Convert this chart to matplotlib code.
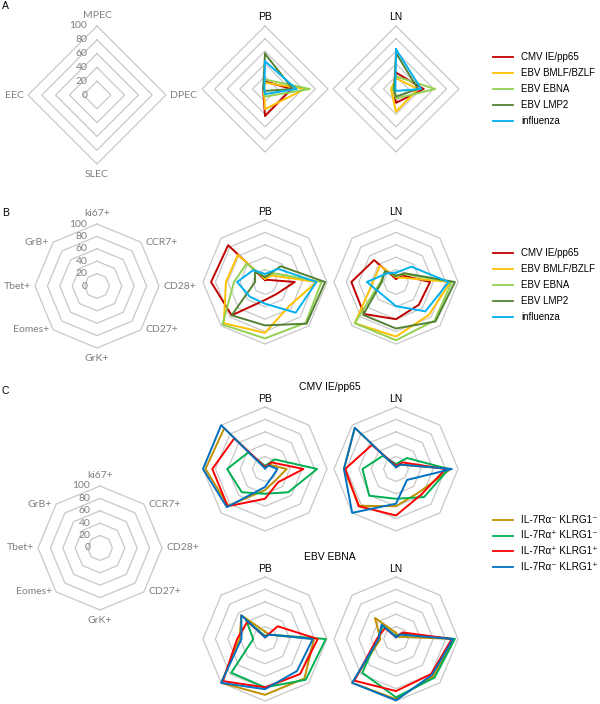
import numpy as np
import matplotlib.pyplot as plt

W, H = 600, 704

# ---- panel A : subsets (clockwise from top)
a_axes = ['MPEC', 'DPEC', 'SLEC', 'EEC']
ab_series = ['CMV IE/pp65', 'EBV BMLF/BZLF', 'EBV EBNA', 'EBV LMP2', 'influenza']
ab_colors = ['#C00000', '#FFC000', '#92D050', '#548235', '#00B0F0']
a_pb = [[12, 42, 43, 3],
        [10, 63, 32, 2],
        [15, 71, 12, 3],
        [56, 44, 3, 3],
        [44, 50, 8, 1]]
a_ln = [[26, 44, 22, 4],
        [17, 35, 36, 8],
        [20, 62, 15, 5],
        [57, 35, 12, 3],
        [63, 40, 3, 1]]

# ---- panel B / C : markers (clockwise from top)
b_axes = ['ki67+', 'CCR7+', 'CD28+', 'CD27+', 'GrK+', 'Eomes+', 'Tbet+', 'GrB+']
b_pb = [[3, 5, 48, 27, 29, 76, 87, 84],
        [5, 15, 83, 55, 82, 94, 63, 62],
        [8, 20, 91, 93, 91, 97, 50, 42],
        [8, 36, 97, 95, 70, 76, 16, 23],
        [13, 30, 83, 70, 35, 34, 45, 27]]
b_ln = [[5, 15, 55, 52, 60, 73, 72, 50],
        [8, 10, 88, 75, 88, 94, 37, 37],
        [10, 18, 90, 88, 94, 94, 25, 25],
        [10, 20, 95, 90, 75, 75, 23, 25],
        [15, 35, 85, 67, 39, 30, 47, 20]]

c_series = ['IL-7Rα⁻ KLRG1⁻', 'IL-7Rα⁺ KLRG1⁻', 'IL-7Rα⁺ KLRG1⁺', 'IL-7Rα⁻ KLRG1⁺']
c_colors = ['#BF8F00', '#00B050', '#FF0000', '#0070C0']
c_cmv_pb = [[2, 10, 35, 25, 34, 84, 96, 93],
            [5, 22, 84, 53, 40, 53, 61, 38],
            [3, 15, 62, 30, 48, 85, 85, 70],
            [1, 8, 20, 17, 29, 87, 100, 100]]
c_cmv_ln = [[3, 10, 88, 53, 60, 84, 84, 94],
            [8, 25, 85, 64, 48, 61, 54, 30],
            [5, 15, 80, 58, 75, 85, 82, 55],
            [3, 10, 90, 25, 56, 100, 84, 94]]
c_ebna_pb = [[12, 10, 79, 90, 90, 100, 41, 54],
             [5, 10, 98, 93, 78, 77, 19, 43],
             [3, 29, 85, 80, 78, 96, 45, 40],
             [3, 10, 77, 73, 81, 100, 38, 54]]
c_ebna_ln = [[10, 5, 93, 85, 97, 100, 25, 48],
             [5, 12, 95, 88, 94, 77, 30, 30],
             [3, 15, 90, 80, 84, 95, 31, 25],
             [3, 10, 92, 82, 99, 100, 28, 33]]

ticks = [0, 20, 40, 60, 80, 100]

fig = plt.figure(figsize=(W / 100, H / 100), dpi=100)
GRID = '#C8C8C8'
GRAY = '#7F7F7F'
LAB_FONT = ['Lato', 'DejaVu Sans']
TXT_FONT = ['Liberation Sans', 'DejaVu Sans']


def radar(cx, cy, R, names, data=None, colors=None, template=False):
    ax = fig.add_axes([(cx - R) / W, 1 - (cy + R) / H, 2 * R / W, 2 * R / H])
    ax.set_xlim(-100, 100)
    ax.set_ylim(-100, 100)
    ax.axis('off')
    n = len(names)
    th = 2 * np.pi * np.arange(n) / n
    sx, cy_ = np.sin(th), np.cos(th)
    for r in ticks[1:]:
        ax.plot(np.append(r * sx, r * sx[0]), np.append(r * cy_, r * cy_[0]),
                color=GRID, lw=0.9, clip_on=False)
    if data is not None:
        for vals, col in zip(data, colors):
            v = np.array(vals, dtype=float)
            xs, ys = v * sx, v * cy_
            ax.plot(np.append(xs, xs[0]), np.append(ys, ys[0]),
                    color=col, lw=1.4, clip_on=False, solid_joinstyle='round')
    if template:
        for t in ticks:
            ax.annotate(str(t), (0, t), xytext=(-7, 0), textcoords='offset points',
                        ha='right', va='center', color=GRAY, fontsize=7.5, family=LAB_FONT)
        for name, s, c in zip(names, sx, cy_):
            if abs(s) < 1e-6:
                off = (0, 7.5 if c > 0 else -7.5)
                ha = 'center'
            else:
                off = (3 if s > 0 else -3, 0)
                ha = 'left' if s > 0 else 'right'
            ax.annotate(name, (100 * s, 100 * c), xytext=off, textcoords='offset points',
                        ha=ha, va='center', color=GRAY, fontsize=7.5, family=LAB_FONT)
    return ax


# panel A
radar(97, 95, 69, a_axes, template=True)
radar(265, 89, 63, a_axes, a_pb, ab_colors)
radar(396, 89, 63, a_axes, a_ln, ab_colors)

# panel B
radar(97, 286, 62, b_axes, template=True)
radar(265, 282, 62, b_axes, b_pb, ab_colors)
radar(396, 282, 62, b_axes, b_ln, ab_colors)

# panel C
radar(100, 548, 62, b_axes, template=True)
radar(265, 469, 62, b_axes, c_cmv_pb, c_colors)
radar(396, 469, 62, b_axes, c_cmv_ln, c_colors)
radar(265, 639, 62, b_axes, c_ebna_pb, c_colors)
radar(396, 639, 62, b_axes, c_ebna_ln, c_colors)

# overlay for titles and legends, in pixel units
ov = fig.add_axes([0, 0, 1, 1])
ov.set_xlim(0, W)
ov.set_ylim(H, 0)
ov.axis('off')
ov.patch.set_visible(False)

for letter, y in [('A', 6), ('B', 213), ('C', 391)]:
    ov.text(2, y, letter, fontsize=7.5, family=TXT_FONT, va='center')
for y in [17, 212, 399, 569]:
    ov.text(265, y, 'PB', fontsize=7.5, family=TXT_FONT, ha='center', va='center')
    ov.text(396, y, 'LN', fontsize=7.5, family=TXT_FONT, ha='center', va='center')
ov.text(330, 387, 'CMV IE/pp65', fontsize=7.5, family=TXT_FONT, ha='center', va='center')
ov.text(330, 557, 'EBV EBNA', fontsize=7.5, family=TXT_FONT, ha='center', va='center')


def legend(y0, dy, names, colors, fs):
    for i, (name, col) in enumerate(zip(names, colors)):
        y = y0 + i * dy
        ov.plot([493, 513], [y, y], color=col, lw=1.3)
        ov.text(521, y, name, fontsize=fs, family=TXT_FONT, va='center')


legend(57, 16, ab_series, ab_colors, 7)
legend(253, 16, ab_series, ab_colors, 7)
legend(520, 15.5, c_series, c_colors, 7.2)

fig.savefig('out.png', dpi=100)
